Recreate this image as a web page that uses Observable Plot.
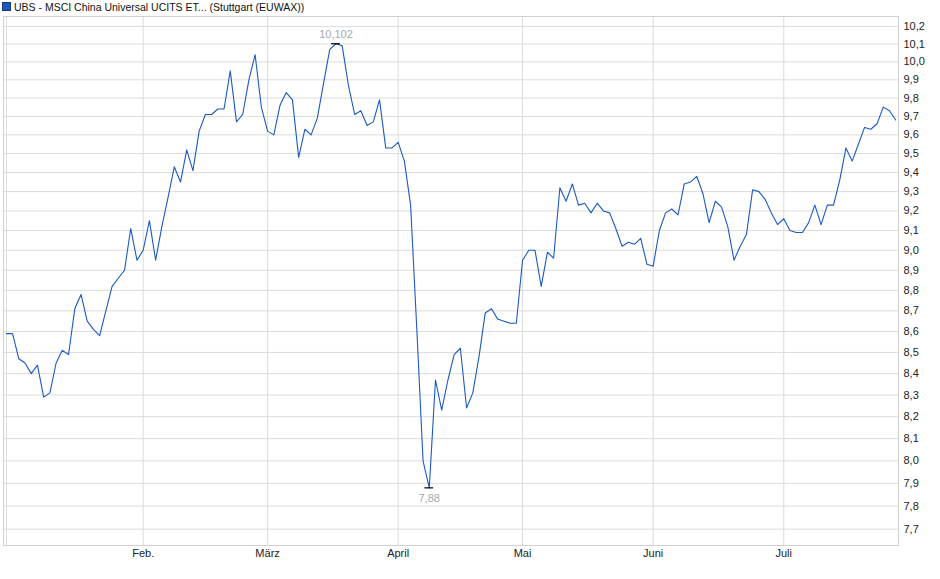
<!DOCTYPE html>
<html>
<head>
<meta charset="utf-8">
<script src="https://cdn.jsdelivr.net/npm/d3@7"></script>
<script src="https://cdn.jsdelivr.net/npm/@observablehq/plot@0.6"></script>
<style>
  html, body { margin: 0; padding: 0; background: #fff; }
  body { width: 940px; height: 579px; overflow: hidden; font-family: "Liberation Sans", Arial, sans-serif; }
  #title { height: 14px; line-height: 14px; font-size: 10.5px; color: #111; white-space: nowrap; position: relative; }
  #title .sw { position: absolute; left: 2px; top: 2px; width: 7px; height: 7px; background: #1f56b8; border: 1px solid #123a80; }
  #title .tx { position: absolute; left: 14px; top: 0px; }
  #chart svg { display: block; }
</style>
</head>
<body>
<div id="title"><span class="sw"></span><span class="tx">UBS - MSCI China Universal UCITS ET... (Stuttgart (EUWAX))</span></div>
<div id="chart"></div>
<script>
// Daily closing values (trading days, 2 Jan – 25 Jul)
const values = [
  8.59, 8.59, 8.47, 8.45, 8.40, 8.44, 8.29, 8.31, 8.45, 8.51,
  8.49, 8.71, 8.78, 8.65, 8.61, 8.58, 8.70, 8.82, 8.86, 8.90,
  9.11, 8.95, 9.00, 9.15, 8.95, 9.12, 9.27, 9.43, 9.35, 9.52,
  9.41, 9.62, 9.71, 9.71, 9.74, 9.74, 9.95, 9.67, 9.71, 9.90,
  10.04, 9.75, 9.62, 9.60, 9.76, 9.83, 9.79, 9.48, 9.63, 9.60,
  9.69, 9.88, 10.07, 10.102, 10.09, 9.87, 9.71, 9.73, 9.65, 9.67,
  9.79, 9.53, 9.53, 9.56, 9.46, 9.23, 8.61, 8.00, 7.88, 8.37,
  8.23, 8.37, 8.49, 8.52, 8.24, 8.31, 8.48, 8.69, 8.71, 8.66,
  8.65, 8.64, 8.64, 8.95, 9.00, 9.00, 8.82, 8.99, 8.96, 9.32,
  9.25, 9.34, 9.23, 9.24, 9.19, 9.24, 9.20, 9.19, 9.11, 9.02,
  9.04, 9.03, 9.06, 8.93, 8.92, 9.10, 9.19, 9.21, 9.18, 9.34,
  9.35, 9.38, 9.29, 9.14, 9.25, 9.22, 9.12, 8.95, 9.02, 9.08,
  9.31, 9.30, 9.26, 9.19, 9.13, 9.16, 9.10, 9.09, 9.09, 9.14,
  9.23, 9.13, 9.23, 9.23, 9.36, 9.53, 9.46, 9.55, 9.64, 9.63,
  9.66, 9.75, 9.73, 9.68
];
// Trading-day index of the first session of each month
const monthStarts = [0, 22, 42, 63, 83, 104, 125];
const monthLabels = ["", "Feb.", "März", "April", "Mai", "Juni", "Juli"];
const yTicks = [7.7, 7.8, 7.9, 8.0, 8.1, 8.2, 8.3, 8.4, 8.5, 8.6, 8.7, 8.8, 8.9,
                9.0, 9.1, 9.2, 9.3, 9.4, 9.5, 9.6, 9.7, 9.8, 9.9, 10.0, 10.1, 10.2];

const data = values.map((v, i) => ({i, v}));
const hi = data[d3.maxIndex(values)];
const lo = data[d3.minIndex(values)];
const labelOf = new Map(monthStarts.map((m, k) => [m, monthLabels[k]]));
const fmt = d => d3.format(".1f")(d).replace(".", ",");
const fmtVal = d => String(d).replace(".", ",");

const chart = Plot.plot({
  width: 940,
  height: 565,
  marginTop: 2,
  marginBottom: 34,
  marginLeft: 3,
  marginRight: 42,
  style: {fontFamily: "'Liberation Sans', Arial, sans-serif", background: "#fff"},
  x: {domain: [-0.46, 143.45], axis: null, label: null},
  y: {type: "log", domain: [7.63, 10.257], axis: null, label: null},
  marks: [
    Plot.ruleY(yTicks, {stroke: "#dcdcdc", strokeWidth: 1}),
    Plot.ruleX(monthStarts, {stroke: "#dcdcdc", strokeWidth: 1}),
    Plot.frame({stroke: "#d0d0d0"}),
    Plot.axisY(yTicks, {anchor: "right", label: null, tickSize: 0, tickPadding: 5, tickFormat: fmt, fontSize: 11, fill: "#222"}),
    Plot.axisX(monthStarts.slice(1), {anchor: "bottom", label: null, tickSize: 0, tickPadding: 4, tickFormat: d => labelOf.get(d), fontSize: 11, fill: "#222"}),
    Plot.lineY(data, {x: "i", y: "v", stroke: "#1c59c4", strokeWidth: 1.1}),
    Plot.ruleY([hi], {x1: d => d.i - 0.7, x2: d => d.i + 0.7, y: "v", stroke: "#000", strokeWidth: 1.2}),
    Plot.text([hi], {x: "i", y: "v", text: d => fmtVal(d.v), dy: -9, fontSize: 11, fill: "#a3a9b3"}),
    Plot.ruleY([lo], {x1: d => d.i - 0.7, x2: d => d.i + 0.7, y: "v", stroke: "#000", strokeWidth: 1.2}),
    Plot.text([lo], {x: "i", y: "v", text: d => fmtVal(d.v), dy: 11, fontSize: 11, fill: "#a3a9b3"})
  ]
});
document.getElementById("chart").appendChild(chart);
</script>
</body>
</html>
